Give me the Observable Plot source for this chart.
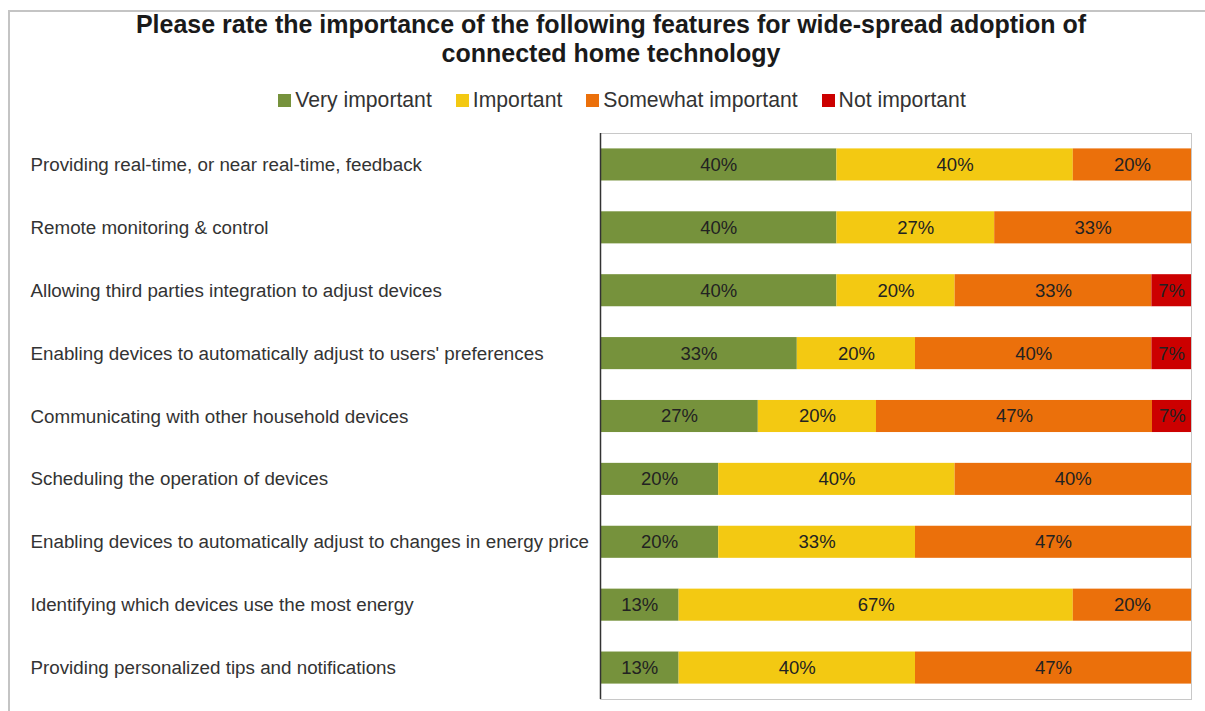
<!DOCTYPE html>
<html>
<head>
<meta charset="utf-8">
<script src="https://cdn.jsdelivr.net/npm/d3@7"></script>
<script src="https://cdn.jsdelivr.net/npm/@observablehq/plot@0.6"></script>
<style>
  html, body { margin: 0; padding: 0; background: #fff; }
  body { width: 1205px; height: 711px; position: relative; overflow: hidden; font-family: "Liberation Sans", Arial, sans-serif; }
  #border { position: absolute; left: 8px; top: 10px; width: 1400px; height: 900px; border-top: 2px solid #c4c4c4; border-left: 2px solid #c4c4c4; }
  #title { position: absolute; left: 0; top: 10px; width: 1222px; text-align: center; font-weight: bold; font-size: 25px; line-height: 29px; color: #1a1a1a; }
  #legend { position: absolute; left: 0; top: 88px; width: 1244px; display: flex; justify-content: center; gap: 24px; font-size: 21.2px; color: #333; }
  .item { display: flex; align-items: center; }
  .sw { width: 13px; height: 13px; margin-right: 4px; }
  #chart { position: absolute; left: 0; top: 123px; }
</style>
</head>
<body>
<div id="border"></div>
<div id="title">Please rate the importance of the following features for wide-spread adoption of<br>connected home technology</div>
<div id="legend"></div>
<div id="chart"></div>
<script>
const features = [
  "Providing real-time, or near real-time, feedback",
  "Remote monitoring & control",
  "Allowing third parties integration to adjust devices",
  "Enabling devices to automatically adjust to users' preferences",
  "Communicating with other household devices",
  "Scheduling the operation of devices",
  "Enabling devices to automatically adjust to changes in energy price",
  "Identifying which devices use the most energy",
  "Providing personalized tips and notifications"
];
const levels = ["Very important", "Important", "Somewhat important", "Not important"];
const colors = ["#76923c", "#f3c912", "#eb700b", "#cc0000"];

const veryImportant = [40, 40, 40, 33.3, 26.7, 20, 20, 13.3, 13.3];
const important     = [40, 26.7, 20, 20, 20, 40, 33.3, 66.7, 40];
const somewhat      = [20, 33.3, 33.3, 40, 46.7, 40, 46.7, 20, 46.7];
const notImportant  = [0, 0, 6.7, 6.7, 6.7, 0, 0, 0, 0];

const series = [veryImportant, important, somewhat, notImportant];
const rows = [];
features.forEach((f, i) => {
  series.forEach((s, j) => {
    if (s[i] > 0) rows.push({feature: f, level: levels[j], value: s[i]});
  });
});

// legend
const legend = document.getElementById("legend");
levels.forEach((l, i) => {
  const it = document.createElement("div");
  it.className = "item";
  const sw = document.createElement("span");
  sw.className = "sw";
  sw.style.background = colors[i];
  it.appendChild(sw);
  const t = document.createElement("span");
  t.textContent = l;
  it.appendChild(t);
  legend.appendChild(it);
});

const chart = Plot.plot({
  width: 1205,
  height: 581,
  marginTop: 10,
  marginBottom: 5,
  marginLeft: 600,
  marginRight: 14,
  style: { fontFamily: "'Liberation Sans', Arial, sans-serif", fontSize: "18.8px", color: "#333", background: "transparent" },
  x: { domain: [0, 100], axis: null },
  y: { domain: features, paddingInner: 0.49, paddingOuter: 0.245, round: false, label: null, axis: null },
  color: { domain: levels, range: colors },
  marks: [
    Plot.barX(rows, Plot.stackX({ x: "value", y: "feature", fill: "level", order: levels })),
    Plot.text(rows, Plot.stackX({ x: "value", y: "feature", z: "level", order: levels,
      text: d => Math.round(d.value) + "%", fill: "#222", fontSize: 18.5 })),
    Plot.frame({ stroke: "#c8c8c8" }),
    Plot.ruleX([0], { stroke: "#333", strokeWidth: 1.5 }),
    Plot.axisY({ anchor: "left", tickSize: 0, tickPadding: 0, textAnchor: "start", dx: -570, fill: "#333", fontSize: 18.8, label: null })
  ]
});
document.getElementById("chart").appendChild(chart);
</script>
</body>
</html>
